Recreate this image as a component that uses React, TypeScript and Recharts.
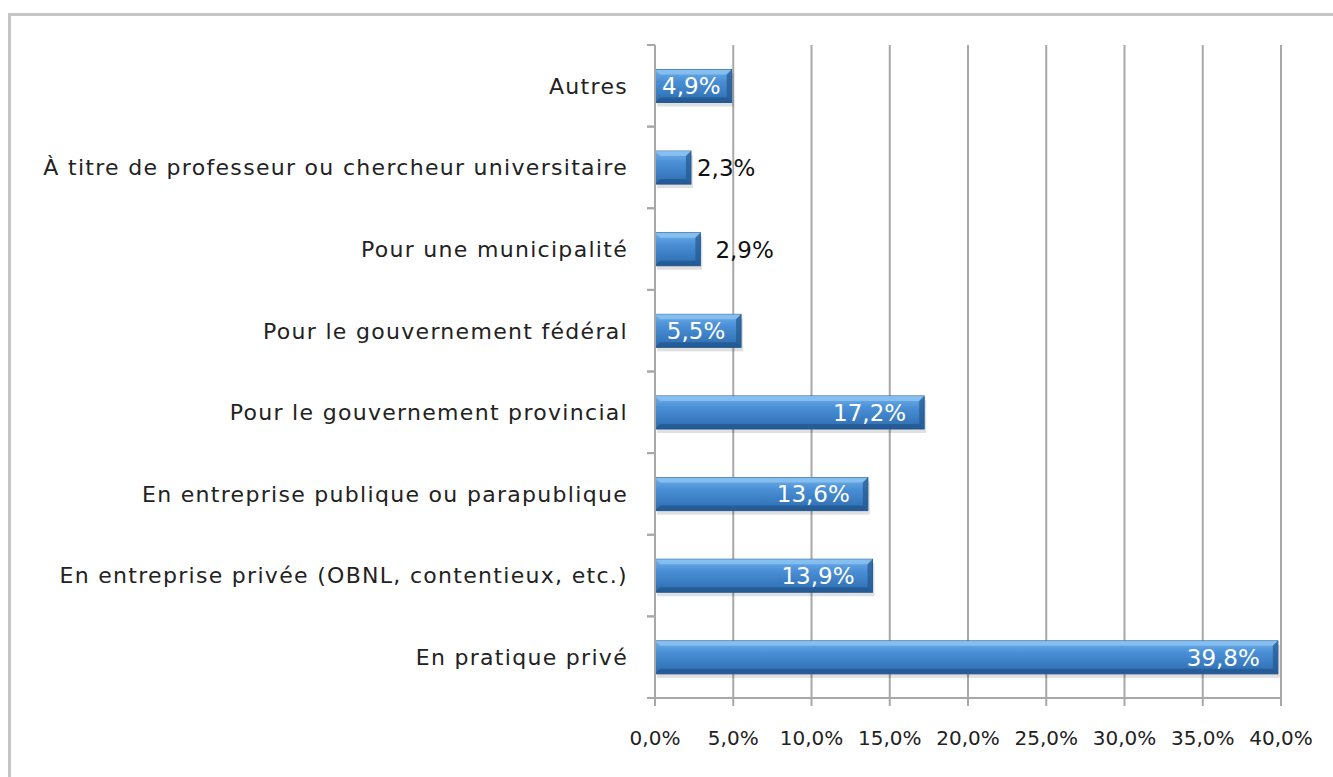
import { BarChart, Bar, XAxis, YAxis, CartesianGrid, LabelList } from 'recharts'

const categories = [
  'Autres',
  'À titre de professeur ou chercheur universitaire',
  'Pour une municipalité',
  'Pour le gouvernement fédéral',
  'Pour le gouvernement provincial',
  'En entreprise publique ou parapublique',
  'En entreprise privée (OBNL, contentieux, etc.)',
  'En pratique privé',
]
const shares = [4.9, 2.3, 2.9, 5.5, 17.2, 13.6, 13.9, 39.8]
const xTicks = [0, 5, 10, 15, 20, 25, 30, 35, 40]

const data = categories.map((name, i) => ({ name, value: shares[i] }))

const fmt = (v: number) => v.toFixed(1).replace('.', ',') + '%'
const font = '"DejaVu Sans", sans-serif'
const gridColor = '#a8a8a8'

// bevelled blue bar, like the old Excel for Mac look
function BevelBar(props: any) {
  const { x, y, width, height } = props
  if (!width || width <= 0) return null
  const b = Math.min(5, width / 3)
  return (
    <g>
      <rect x={x + 2} y={y + 4} width={width} height={height} fill="#000" opacity={0.12} />
      <rect x={x} y={y} width={width} height={height} fill="url(#barGrad)" stroke="#2a5f98" strokeWidth={1} />
      <polygon
        points={`${x},${y} ${x + width},${y} ${x + width - b},${y + b} ${x + b},${y + b}`}
        fill="#8cc4f2"
        opacity={0.8}
      />
      <polygon
        points={`${x + width},${y} ${x + width},${y + height} ${x + width - b},${y + height - b} ${x + width - b},${y + b}`}
        fill="#24588f"
        opacity={0.7}
      />
      <polygon
        points={`${x},${y + height} ${x + width},${y + height} ${x + width - b},${y + height - b} ${x + b},${y + height - b}`}
        fill="#1f4f82"
        opacity={0.6}
      />
    </g>
  )
}

function ValueLabel(props: any) {
  const { x, y, width, height, value } = props
  const cy = y + height / 2
  if (value < 4) {
    return (
      <text x={x + width + (value > 2.5 ? 15 : 6)} y={cy} dy="0.36em" fill="#111" fontSize={23} fontFamily={font}>
        {fmt(value)}
      </text>
    )
  }
  if (width < 100) {
    return (
      <text x={x + width / 2 - 2} y={cy} dy="0.36em" textAnchor="middle" fill="#fff" fontSize={23} fontFamily={font}>
        {fmt(value)}
      </text>
    )
  }
  return (
    <text x={x + width - 18} y={cy} dy="0.36em" textAnchor="end" fill="#fff" fontSize={23} fontFamily={font}>
      {fmt(value)}
    </text>
  )
}

// category label plus the small marks on the axis at the band edges
function CategoryTick(props: any) {
  const { x, y, payload } = props
  const half = payload.offset || 0
  return (
    <g>
      <line x1={x - 8} x2={x} y1={y - half} y2={y - half} stroke={gridColor} strokeWidth={2} />
      <line x1={x - 8} x2={x} y1={y + half} y2={y + half} stroke={gridColor} strokeWidth={2} />
      <text
        x={x - 27}
        y={y}
        dy="0.36em"
        textAnchor="end"
        fill="#222"
        fontSize={22}
        fontFamily={font}
        letterSpacing={1.3}
      >
        {payload.value}
      </text>
    </g>
  )
}

export default function App() {
  return (
    <div style={{ position: 'absolute', left: 0, top: 0, width: 1333, height: 777, background: '#fff', overflow: 'hidden' }}>
      <div
        style={{
          position: 'absolute',
          left: 8,
          top: 13,
          width: 1400,
          height: 900,
          border: '3px solid #c4c4c4',
          boxSizing: 'border-box',
        }}
      />
      <div style={{ position: 'absolute', left: 0, top: 0 }}>
        <BarChart
          width={1333}
          height={777}
          data={data}
          layout="vertical"
          margin={{ top: 45, right: 52, bottom: 39, left: 0 }}
          barCategoryGap="30%"
        >
          <defs>
            <linearGradient id="barGrad" x1="0" y1="0" x2="0" y2="1">
              <stop offset="0%" stopColor="#72b0ea" />
              <stop offset="35%" stopColor="#4a8fd6" />
              <stop offset="100%" stopColor="#2c6cb0" />
            </linearGradient>
          </defs>
          <CartesianGrid horizontal={false} stroke={gridColor} strokeWidth={2} />
          <XAxis
            type="number"
            domain={[0, 40]}
            ticks={xTicks}
            tickFormatter={fmt}
            axisLine={{ stroke: gridColor, strokeWidth: 2 }}
            tickLine={{ stroke: gridColor, strokeWidth: 2 }}
            tickSize={8}
            height={40}
            tick={{ fill: '#222', fontSize: 20, fontFamily: font, dy: 23 }}
          />
          <YAxis
            type="category"
            dataKey="name"
            width={655}
            axisLine={{ stroke: gridColor, strokeWidth: 2 }}
            tickLine={false}
            tickSize={0}
            tickMargin={0}
            tick={<CategoryTick />}
            interval={0}
          />
          <Bar dataKey="value" shape={<BevelBar />} isAnimationActive={false}>
            <LabelList dataKey="value" content={<ValueLabel />} />
          </Bar>
        </BarChart>
      </div>
    </div>
  )
}
